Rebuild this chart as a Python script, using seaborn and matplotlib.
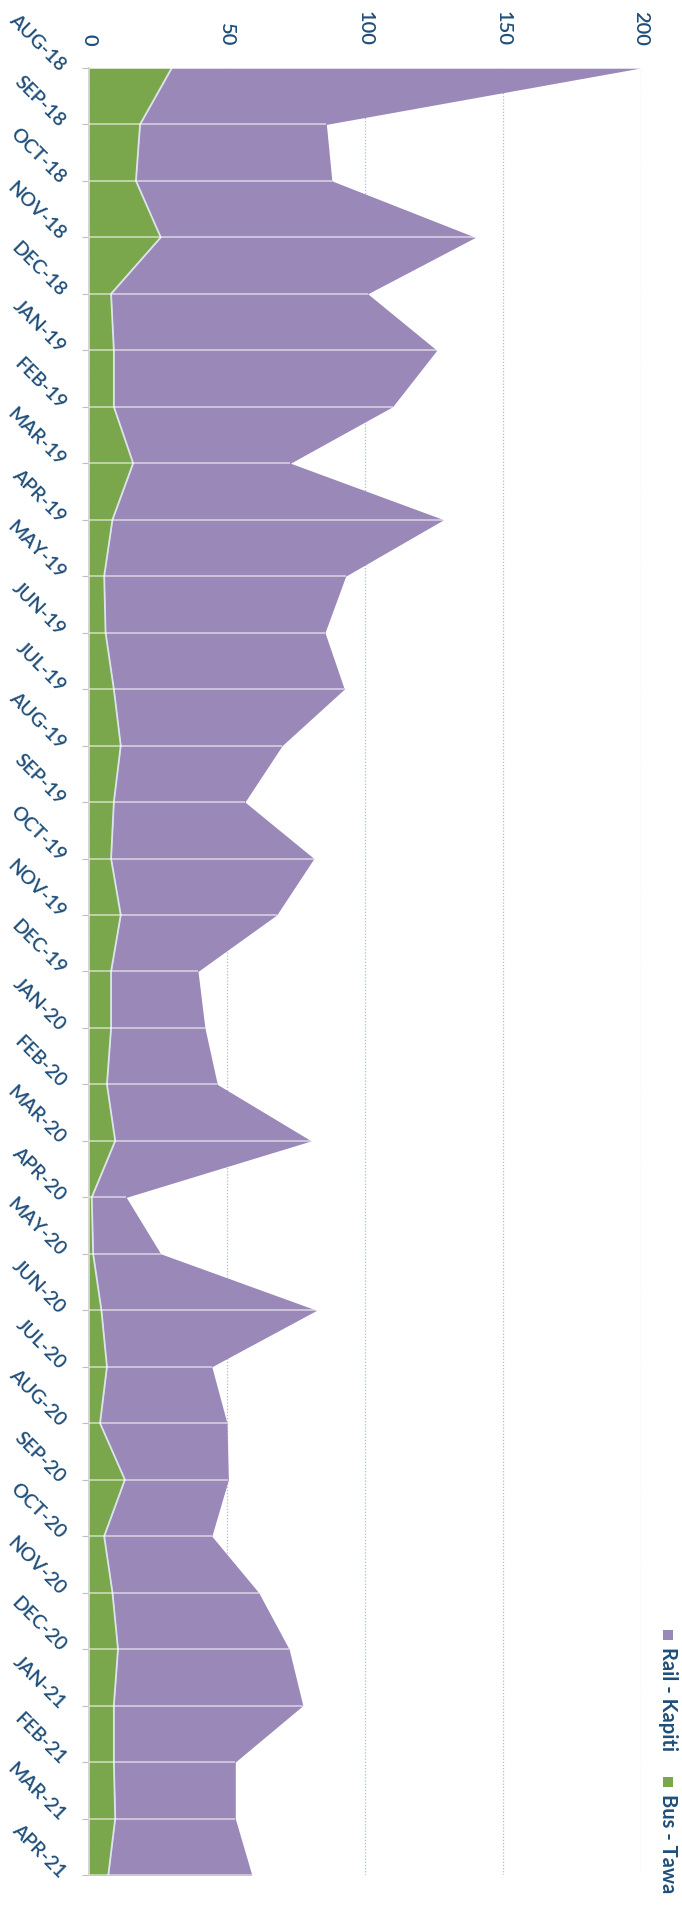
import numpy as np
import pandas as pd
import matplotlib.pyplot as plt
import seaborn as sns

# Monthly figures, Aug-18 to Apr-21
months = ["AUG-18", "SEP-18", "OCT-18", "NOV-18", "DEC-18",
          "JAN-19", "FEB-19", "MAR-19", "APR-19", "MAY-19", "JUN-19",
          "JUL-19", "AUG-19", "SEP-19", "OCT-19", "NOV-19", "DEC-19",
          "JAN-20", "FEB-20", "MAR-20", "APR-20", "MAY-20", "JUN-20",
          "JUL-20", "AUG-20", "SEP-20", "OCT-20", "NOV-20", "DEC-20",
          "JAN-21", "FEB-21", "MAR-21", "APR-21"]
bus_tawa = [30, 18.5, 17, 26, 8, 9, 9, 16, 8.5, 5.5, 6,
            9, 11.5, 9, 8, 11.5, 8, 8, 6.5, 9.5, 1, 1.5,
            4.5, 6.5, 4, 13, 5.5, 8.5, 10.5, 9, 9, 9.5, 7]
rail_kapiti = [170, 67.5, 71, 114, 93, 117, 101, 57, 120, 87.5, 79.5,
               83.5, 58.5, 47.5, 73.5, 56.5, 31.5, 34, 40, 71, 12.5, 24.5,
               78, 38, 46, 37.5, 39, 53, 62, 68.5, 44, 43.5, 52]
value_ticks = [0, 50, 100, 150, 200]

purple = "#9a88b9"
green = "#7aa74c"
txt = "#1f4e79"

sns.set_theme(style="white")
plt.rcParams['font.family'] = ['Lato', 'DejaVu Sans']

df = pd.DataFrame({"month": months, "bus": bus_tawa, "rail": rail_kapiti})
df["pos"] = np.arange(len(df))
df["total"] = df["bus"] + df["rail"]

fig = plt.figure(figsize=(6.82, 19.05), dpi=100)
ax = fig.add_axes([0.1305, 0.01575, 0.8094, 0.9486])

# stacked area, turned on its side
ax.fill_betweenx(df["pos"], 0, df["bus"], color=green, lw=0, zorder=2)
ax.fill_betweenx(df["pos"], df["bus"], df["total"], color=purple, lw=0, zorder=2)
sns.lineplot(data=df, x="bus", y="pos", orient="y", sort=False,
             color="#dde3ee", lw=1.3, ax=ax, zorder=3)
ax.hlines(df["pos"], 0, df["total"], color="white", alpha=0.55, lw=1.3, zorder=3)

ax.set_xlim(0, 200)
ax.set_ylim(len(df) - 1, 0)
ax.set_xlabel("")
ax.set_ylabel("")

ax.set_xticks(value_ticks)
ax.xaxis.tick_top()
ax.tick_params(axis='x', length=0, pad=16, labelrotation=-90,
               labelsize=14.5, labelcolor=txt)
ax.set_yticks(df["pos"], df["month"])
ax.tick_params(axis='y', left=True, length=5, width=0.8, color='#bfbfbf',
               pad=14, labelsize=14, labelcolor=txt)
for lab in ax.get_xticklabels():
    lab.set_fontweight('semibold')
for lab in ax.get_yticklabels():
    lab.set_rotation(-45)
    lab.set_rotation_mode('anchor')
    lab.set_ha('right')
    lab.set_va('center')
    lab.set_fontweight('semibold')

ax.grid(axis='x', color='#a9bdd3', linestyle=(0, (1, 1.5)), lw=0.9)
ax.grid(axis='y', visible=False)
ax.set_axisbelow(True)
for s in ax.spines.values():
    s.set_visible(False)
ax.spines['left'].set_visible(True)
ax.spines['left'].set_color('#d0d0d0')

# legend, rotated like the rest of the chart
W, H = 682, 1905
for label, col, sq_y in [("Rail - Kapiti", purple, 1635), ("Bus - Tawa", green, 1782)]:
    fig.add_artist(plt.Rectangle(((668 - 5) / W, 1 - (sq_y + 5) / H), 10 / W, 10 / H,
                                 transform=fig.transFigure, color=col, lw=0))
    fig.text(668 / W, 1 - (sq_y + 12) / H, label, rotation=-90, ha='center', va='top',
             fontsize=14.5, fontweight='bold', color=txt)

fig.savefig("out.png", dpi=100)
